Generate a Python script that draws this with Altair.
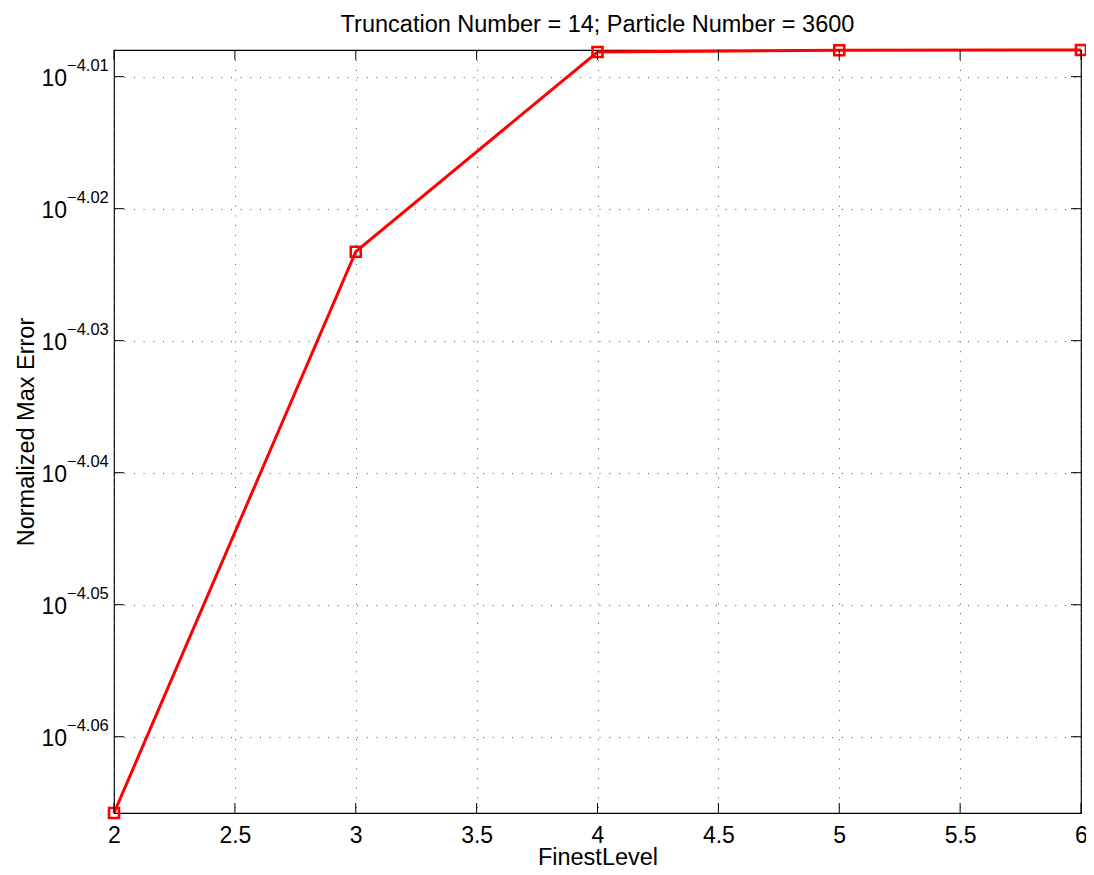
import altair as alt
import pandas as pd

# ---- data ----
levels = [2, 3, 4, 5, 6]
max_error = [8.5945e-5, 9.4785e-5, 9.8145e-5, 9.8175e-5, 9.8179e-5]
x_ticks = [2, 2.5, 3, 3.5, 4, 4.5, 5, 5.5, 6]
y_exponents = [-4.01, -4.02, -4.03, -4.04, -4.05, -4.06]
y_exp_labels = ["\u22124.01", "\u22124.02", "\u22124.03", "\u22124.04", "\u22124.05", "\u22124.06"]
title_text = "Truncation Number = 14; Particle Number = 3600"
x_title = "FinestLevel"
y_title = "Normalized Max Error"

W, H = 967, 763
FONT = "Liberation Sans"
FS = 23.5
TICK = 10

df = pd.DataFrame({"level": levels, "err": max_error})
yt = pd.DataFrame({"pos": [10 ** e for e in y_exponents], "exp": y_exp_labels, "base": ["10"] * len(y_exponents)})
xt = pd.DataFrame({"xv": x_ticks})
tt = pd.DataFrame({"t": [title_text]})

xscale = alt.Scale(domain=[min(x_ticks), max(x_ticks)], nice=False, zero=False)
yscale = alt.Scale(type="log", domain=[min(max_error), max(max_error)], nice=False, zero=False)

grid_dash = [1, 8.7]

x_axis = alt.Axis(
    values=x_ticks, labelExpr="datum.value + ''", grid=True, gridDash=grid_dash,
    gridColor="#555555", gridWidth=1, ticks=False, tickSize=0, domain=False,
    labelFont=FONT, labelFontSize=23, labelColor="black", labelBaseline="alphabetic",
    labelPadding=29, labelFlush=False, labelOverlap=False,
    title=x_title, titleFont=FONT, titleFontSize=FS, titleFontWeight="normal",
    titleColor="black", titleX=W / 2, titleY=51.5, titleBaseline="alphabetic", titleAlign="center",
)
y_axis = alt.Axis(
    values=[10 ** e for e in y_exponents], grid=True, gridDash=grid_dash,
    gridColor="#555555", gridWidth=1, ticks=False, tickSize=0, domain=False, labels=False,
    title=y_title, titleFont=FONT, titleFontSize=FS, titleFontWeight="normal",
    titleColor="black", titleX=-81, titleY=H / 2, titleAngle=270,
    titleBaseline="alphabetic", titleAlign="center",
)

X = alt.X("level:Q", scale=xscale, axis=x_axis)
Y = alt.Y("err:Q", scale=yscale, axis=y_axis)

line = alt.Chart(df).mark_line(color="#ff0000", strokeWidth=3).encode(x=X, y=Y)
pts = alt.Chart(df).mark_point(shape="square", filled=False, color="#ff0000",
                               strokeWidth=2.6, size=100, opacity=1).encode(x=X, y=Y)

# inward ticks on all four sides
xq = alt.X("xv:Q", scale=xscale)
yq = alt.Y("pos:Q", scale=yscale)
tick_b = alt.Chart(xt).mark_rule(color="black", strokeWidth=1).encode(
    x=xq, y=alt.value(H), y2=alt.value(H - TICK))
tick_t = alt.Chart(xt).mark_rule(color="black", strokeWidth=1).encode(
    x=xq, y=alt.value(0), y2=alt.value(TICK))
tick_l = alt.Chart(yt).mark_rule(color="black", strokeWidth=1).encode(
    y=yq, x=alt.value(0), x2=alt.value(TICK))
tick_r = alt.Chart(yt).mark_rule(color="black", strokeWidth=1).encode(
    y=yq, x=alt.value(W), x2=alt.value(W - TICK))

# y tick labels as 10^{exp}
lab_base = alt.Chart(yt).mark_text(font=FONT, fontSize=23, align="right", baseline="alphabetic",
                                   dy=9.3, color="black").encode(
    y=yq, x=alt.value(-47), text="base:N")
lab_exp = alt.Chart(yt).mark_text(font=FONT, fontSize=16.5, align="left", baseline="alphabetic",
                                  dy=-6, color="black").encode(
    y=yq, x=alt.value(-47), text="exp:N")

title = alt.Chart(tt).mark_text(font=FONT, fontSize=FS, align="center", baseline="alphabetic",
                                color="black").encode(
    x=alt.value(W / 2), y=alt.value(-18.3), text="t:N")

chart = alt.layer(
    line, pts, tick_b, tick_t, tick_l, tick_r, lab_base, lab_exp, title
).properties(
    width=W, height=H,
    autosize=alt.AutoSizeParams(type="none"),
    padding={"left": 106, "top": 42, "right": 5, "bottom": 53},
    background="white",
).configure_view(stroke="black", strokeWidth=1.2)

chart.save("out.html", embed_options={"renderer": "svg", "actions": False})
